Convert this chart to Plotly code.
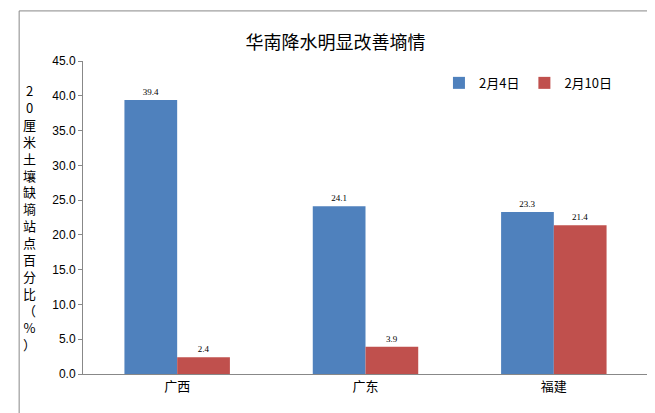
import plotly.graph_objects as go

categories = ["广西", "广东", "福建"]
feb4 = [39.4, 24.1, 23.3]
feb10 = [2.4, 3.9, 21.4]
series_names = ["2月4日", "2月10日"]
ytitle = "20厘米土壤缺墒站点百分比（%）"

fig = go.Figure()
for name, vals, col in [(series_names[0], feb4, "#4F81BD"), (series_names[1], feb10, "#C0504D")]:
    fig.add_trace(go.Bar(x=categories, y=vals, name=name, marker=dict(color=col, line=dict(width=0)),
                         text=[f"{v:.1f}" for v in vals], textposition="outside",
                         textfont=dict(size=9, color="black", family="Arial Black"), cliponaxis=False))

fig.update_layout(
    width=655, height=413, barmode="group", bargap=0.44, bargroupgap=0,
    paper_bgcolor="white", plot_bgcolor="white",
    margin=dict(l=75, r=15, t=53, b=47),
    font=dict(family="Noto Sans CJK SC", size=12, color="black"),
    title=dict(text="华南降水明显改善墒情", x=0.5, xanchor="center", y=0.915, yanchor="middle",
               font=dict(size=18, family="Noto Sans CJK SC")),
    legend=dict(orientation="h", x=0.63, y=0.93, xanchor="left", yanchor="middle",
                font=dict(size=13), bgcolor="rgba(0,0,0,0)"),
    yaxis=dict(range=[0, 45], dtick=5, tickformat=".1f", showline=True, linecolor="#888",
               ticks="outside", ticklen=4, tickcolor="#888", showgrid=False, zeroline=False,
               tickfont=dict(size=12, family="Arial")),
    xaxis=dict(showline=True, linecolor="#888", ticks="", showgrid=False,
               tickfont=dict(size=13)),
    shapes=[dict(type="rect", xref="paper", yref="paper", x0=-0.113, x1=1.022, y0=-0.13, y1=1.16,
                 line=dict(color="#888", width=1))],
    annotations=[dict(text="<br>".join(list(ytitle)), xref="paper", yref="paper",
                      x=-0.095, y=0.5, xanchor="center", yanchor="middle", showarrow=False,
                      font=dict(size=13, family="Noto Sans CJK SC"))],
)
fig.write_html("out.html")
